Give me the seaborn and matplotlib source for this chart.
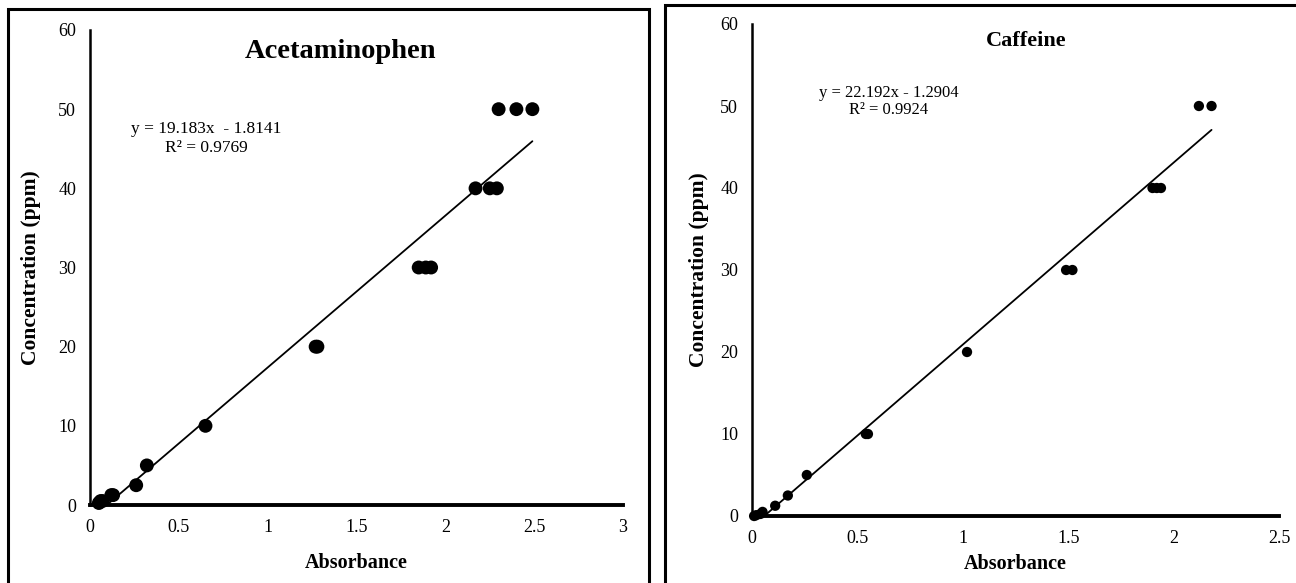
import numpy as np
import pandas as pd
import matplotlib
matplotlib.use("Agg")
import matplotlib.pyplot as plt
import seaborn as sns
from matplotlib.patches import Rectangle

# Acetaminophen calibration (absorbance -> ppm)
acet_abs = [0.05, 0.06, 0.07, 0.12, 0.13, 0.26, 0.32, 0.65, 1.27, 1.28,
            1.85, 1.89, 1.92, 2.17, 2.25, 2.29, 2.30, 2.40, 2.49]
acet_ppm = [0.25, 0.5, 0.5, 1.25, 1.25, 2.5, 5, 10, 20, 20,
            30, 30, 30, 40, 40, 40, 50, 50, 50]
acet_fit = (19.183, -1.8141)
acet_r2 = 0.9769

# Caffeine calibration
caf_abs = [0.01, 0.02, 0.04, 0.05, 0.11, 0.17, 0.26, 0.54, 0.55, 1.02,
           1.49, 1.52, 1.90, 1.92, 1.94, 2.12, 2.18]
caf_ppm = [0.0, 0.1, 0.25, 0.5, 1.25, 2.5, 5, 10, 10, 20,
           30, 30, 40, 40, 40, 50, 50]
caf_fit = (22.192, -1.2904)
caf_r2 = 0.9924

sns.set_style("white")
plt.rcParams["font.family"] = ["Liberation Serif", "DejaVu Serif"]
plt.rcParams["text.color"] = "black"
plt.rcParams["axes.labelcolor"] = "black"
plt.rcParams["xtick.color"] = "black"
plt.rcParams["ytick.color"] = "black"

fig = plt.figure(figsize=(12.96, 5.83), dpi=100)

# panel frames
fig.patches.append(Rectangle((8 / 1296, -0.05), 641 / 1296, 1.05 - 9 / 583,
                             transform=fig.transFigure, fill=False,
                             edgecolor="black", linewidth=2.2))
fig.patches.append(Rectangle((665 / 1296, -0.05), 640 / 1296, 1.05 - 5 / 583,
                             transform=fig.transFigure, fill=False,
                             edgecolor="black", linewidth=2.2))


def panel(rect, xs, ys, fit, r2, xmax, title, title_size, title_pos,
          eq_pos, eq_size, msize, eq_sep, xpad, ypad):
    ax = fig.add_axes(rect)
    df = pd.DataFrame({"Absorbance": xs, "ppm": ys})
    slope, icpt = fit
    line = pd.DataFrame({"Absorbance": [min(xs), max(xs)]})
    line["ppm"] = slope * line["Absorbance"] + icpt
    sns.lineplot(data=line, x="Absorbance", y="ppm", ax=ax, color="black",
                 linewidth=1.3)
    sns.scatterplot(data=df, x="Absorbance", y="ppm", ax=ax, color="black",
                    s=msize, edgecolor="none", zorder=3, clip_on=False)
    ax.set_xlim(0, xmax)
    ax.set_ylim(0, 60)
    ticks = np.arange(0, xmax + 0.01, 0.5)
    ax.set_xticks(ticks)
    ax.set_xticklabels([f"{v:g}" for v in ticks])
    ax.set_yticks(range(0, 61, 10))
    ax.tick_params(axis="both", length=0, labelsize=13)
    ax.tick_params(axis="x", pad=10)
    ax.tick_params(axis="y", pad=10)
    for s in ["top", "right"]:
        ax.spines[s].set_visible(False)
    ax.spines["left"].set_linewidth(1.8)
    ax.spines["bottom"].set_linewidth(2.8)
    ax.spines["left"].set_color("black")
    ax.spines["bottom"].set_color("black")
    ax.set_xlabel("Absorbance", fontsize=14.5, fontweight="bold",
                  labelpad=xpad)
    ax.set_ylabel("Concentration (ppm)", fontsize=15.5, fontweight="bold",
                  labelpad=ypad)
    ax.text(title_pos[0], title_pos[1], title, transform=ax.transAxes,
            ha="center", va="center", fontsize=title_size, fontweight="bold")
    sign = "-" if icpt < 0 else "+"
    ax.text(eq_pos[0], eq_pos[1],
            f"y = {slope:.3f}x{eq_sep}{sign} {abs(icpt):.4f}\nR² = {r2:.4f}",
            transform=ax.transAxes, ha="center", va="center",
            fontsize=eq_size, linespacing=1.2 if eq_size > 12 else 1.05)
    return ax


ax1 = panel([90 / 1296, 78 / 583, 533 / 1296, 475 / 583],
            acet_abs, acet_ppm, acet_fit, acet_r2, 3,
            "Acetaminophen", 20.5, (0.47, 0.955), (0.218, 0.772), 12.5, 100,
            "  ", 12, 12)
ax2 = panel([752 / 1296, 67 / 583, 527 / 1296, 492 / 583],
            caf_abs, caf_ppm, caf_fit, caf_r2, 2.5,
            "Caffeine", 16, (0.52, 0.965), (0.259, 0.843), 12, 55, " ",
            5, 8)

fig.savefig("out.png", dpi=100)
